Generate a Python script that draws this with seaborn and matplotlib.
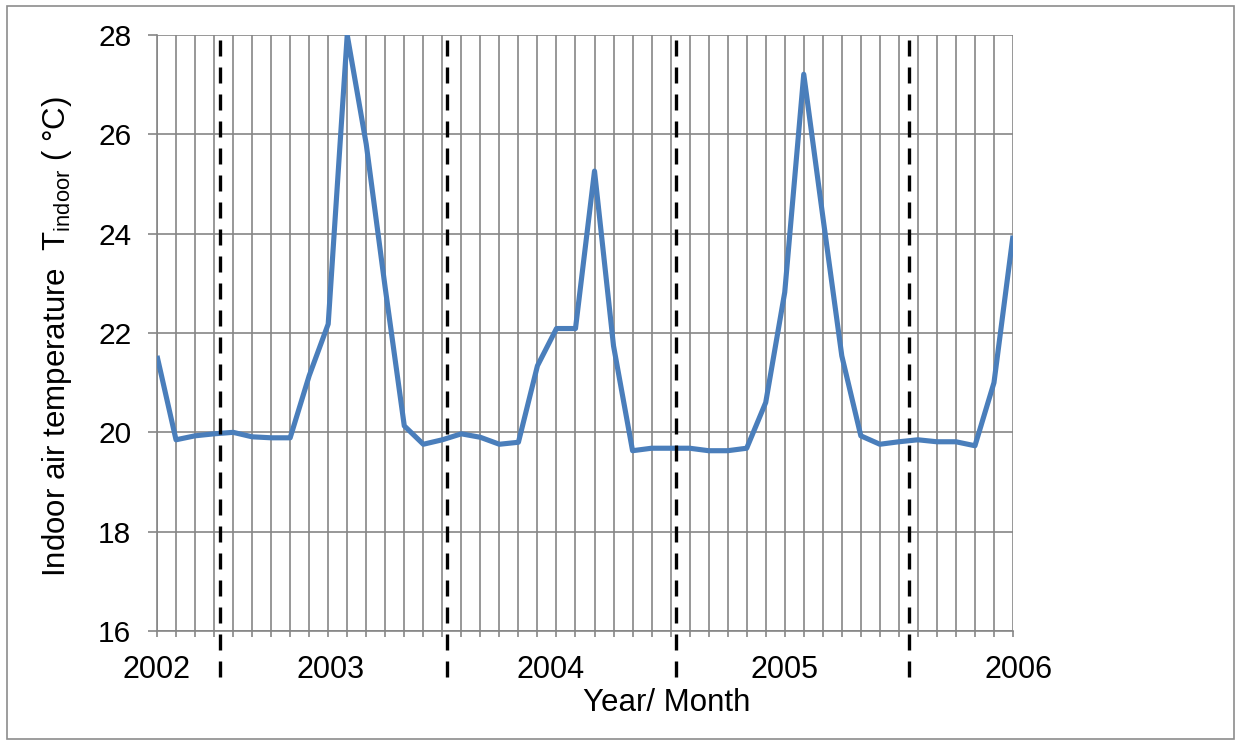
import matplotlib
matplotlib.use("Agg")
import matplotlib.pyplot as plt
from matplotlib.patches import Rectangle
from matplotlib.transforms import blended_transform_factory
import numpy as np
import pandas as pd
import seaborn as sns

# Monthly mean indoor air temperature (°C), one value per month
month_index = list(range(46))
indoor_temp = [
    21.54, 19.85, 19.93, 19.97, 20.00, 19.91, 19.89, 19.89, 21.14, 22.18,
    28.00, 25.80, 22.90, 20.13, 19.76, 19.85, 19.97, 19.90, 19.76, 19.80,
    21.34, 22.09, 22.09, 25.26, 21.74, 19.63, 19.68, 19.68, 19.68, 19.63,
    19.63, 19.68, 20.60, 22.82, 27.21, 24.35, 21.54, 19.93, 19.76, 19.81,
    19.85, 19.81, 19.81, 19.73, 21.00, 23.96,
]
year_labels = ["2002", "2003", "2004", "2005", "2006"]
y_ticks = [16, 18, 20, 22, 24, 26, 28]

# Placement of the year captions and of the dashed season dividers (month units)
year_label_x = [0.0, 9.15, 20.7, 33.0, 45.3]
divider_x = [3.31, 15.23, 27.29, 39.54]

sns.set_style("white")
plt.rcParams["font.family"] = ["Liberation Sans", "DejaVu Sans"]
plt.rcParams["mathtext.fontset"] = "custom"
plt.rcParams["mathtext.rm"] = "Liberation Sans"

GRID = "#868686"
W, H = 1241, 745
fig = plt.figure(figsize=(W / 100, H / 100), dpi=100)
ax = fig.add_axes([157 / W, 1 - 631 / H, 856 / W, 596 / H])

df = pd.DataFrame({"month": month_index, "temp": indoor_temp})
sns.lineplot(data=df, x="month", y="temp", ax=ax, color="#4A7EBB",
             linewidth=3.7, solid_joinstyle="round", solid_capstyle="butt",
             zorder=3)

ax.set_xlim(0, 45)
ax.set_ylim(16, 28)
ax.set_xticks(month_index)
ax.set_xticklabels([])
ax.set_yticks(y_ticks)
ax.set_yticklabels([str(v) for v in y_ticks], fontsize=21.5)
ax.grid(True, color=GRID, linewidth=1.2, zorder=1)
ax.set_axisbelow(True)
ax.tick_params(axis="x", bottom=True, length=4.5, width=1.2, color=GRID,
               direction="out")
ax.tick_params(axis="y", left=True, length=6.5, width=1.2, color=GRID,
               direction="out", pad=12, labelcolor="black")
for side in ("top", "right"):
    ax.spines[side].set_visible(False)
for side in ("left", "bottom"):
    ax.spines[side].set_color(GRID)
    ax.spines[side].set_linewidth(1.2)

# Dashed dividers, running through the caption row below the axis
for xpos in divider_x:
    ax.axvline(xpos, ymin=-0.077, ymax=1.003, color="black", linewidth=2.4,
               linestyle=(0, (4.8, 3.3)), clip_on=False, zorder=4)

# Year captions under the axis
trans = blended_transform_factory(ax.transData, ax.transAxes)
for xpos, label in zip(year_label_x, year_labels):
    ax.text(xpos, -0.0654, label, transform=trans, ha="center", va="center",
            fontsize=22, color="black")

ax.set_xlabel("Year/ Month", fontsize=22.5, color="black")
ax.xaxis.set_label_coords(0.596, -0.095)
ax.set_ylabel(r"Indoor air temperature  T$_{\mathregular{indoor}}$ ( °C)",
              fontsize=22.5, color="black")
ax.yaxis.set_label_coords(-0.097, 0.494)

# Thin frame around the whole figure
fig.patches.append(Rectangle((7 / W, 6 / H), (1234 - 7) / W, (739 - 6) / H,
                             transform=fig.transFigure, fill=False,
                             edgecolor="#8c8c8c", linewidth=1.2))

fig.savefig("out.png", dpi=100)
